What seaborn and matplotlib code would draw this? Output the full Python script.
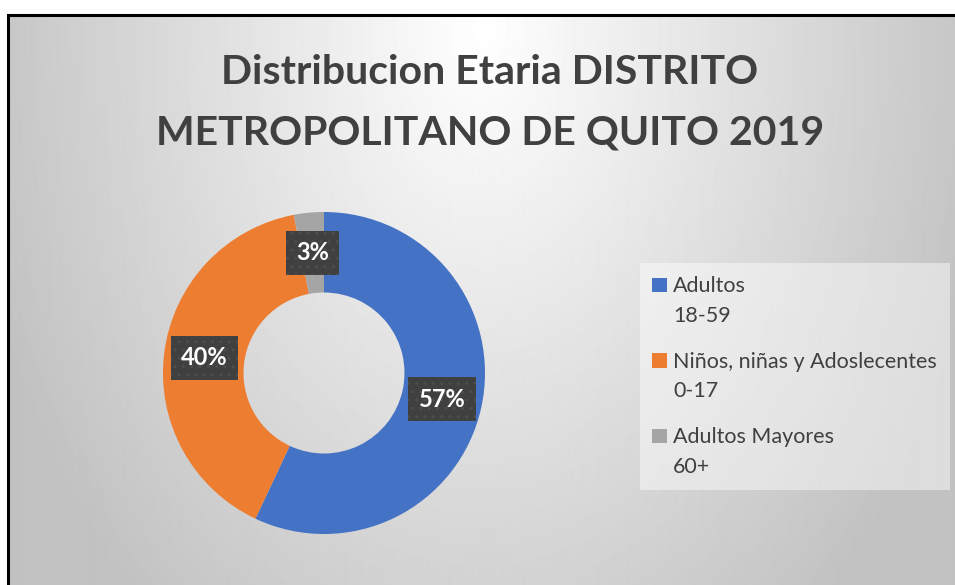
import numpy as np
import matplotlib
matplotlib.use("Agg")
import matplotlib.pyplot as plt
import seaborn as sns
from matplotlib.patches import Rectangle
from matplotlib.patches import Wedge
from matplotlib.legend_handler import HandlerPatch

# datos
categorias = ['Adultos\n18-59', 'Niños, niñas y Adoslecentes\n0-17', 'Adultos Mayores\n60+']
porcentajes = [57, 40, 3]
colores = ['#4472C4', '#ED7D31', '#A5A5A5']
titulo = 'Distribucion Etaria DISTRITO\nMETROPOLITANO DE QUITO 2019'

sns.set_theme(style='white')
plt.rcParams['font.family'] = ['Lato', 'DejaVu Sans']
plt.rcParams['hatch.linewidth'] = 1.0

W, H = 955, 585
fig = plt.figure(figsize=(W / 100, H / 100), dpi=100)
fig.patch.set_facecolor('white')

# fondo degradado (gris en los bordes, blanco arriba al centro)
bg = fig.add_axes([8 / W, 0, 1 - 8 / W, 1 - 15 / H])
yy, xx = np.mgrid[15:H, 8:W]
d = np.sqrt(((xx - 480) / 475.0) ** 2 + ((yy - 30) / 700.0) ** 2)
g = 1 - 0.22 * np.clip(d, 0, 1.1)
bg.imshow(g, cmap='gray', vmin=0, vmax=1, aspect='auto', extent=[0, 1, 0, 1],
          interpolation='bilinear')
bg.axis('off')
fig.patches.append(Rectangle((8 / W, -0.1), 1.2, 1 - 15 / H + 0.1, transform=fig.transFigure,
                             fill=False, edgecolor='black', lw=2.2, zorder=10))

# dona
R = 161
cx, cy = 324, 373
ax = fig.add_axes([(cx - R) / W, (H - cy - R) / H, 2 * R / W, 2 * R / H])
wedges, _, autotexts = ax.pie(porcentajes, colors=colores, startangle=90, counterclock=False,
                              radius=1, autopct='%1.0f%%', pctdistance=0.75,
                              wedgeprops=dict(width=0.5, edgecolor='none'),
                              textprops=dict(color='white', fontsize=17, fontweight='bold'))
ax.set_xlim(-1, 1)
ax.set_ylim(-1, 1)
ax.axis('off')
for t in autotexts:
    t.set_bbox(dict(boxstyle='square,pad=0.44', facecolor='#404040', edgecolor='#4d4d4d',
                    hatch='..', linewidth=0))

# leyenda
LS = 1.61


def cuadro(legend, orig_handle, xdescent, ydescent, width, height, fontsize):
    s = 0.68 * fontsize
    base = 0.5 * (LS * 0.83 * fontsize + 0.2 * fontsize)
    return Rectangle((width - s - xdescent, base), s, s)


leg = ax.legend(wedges, categorias, loc='upper left', bbox_to_anchor=(640 / W, 1 - 263 / H),
                bbox_transform=fig.transFigure, borderaxespad=0, fontsize=15.5,
                labelspacing=1.2, handlelength=0.65, handletextpad=0.3, borderpad=0.6,
                frameon=True, fancybox=False, facecolor='white', framealpha=0.45,
                edgecolor='none', labelcolor='#404040',
                handler_map={Wedge: HandlerPatch(patch_func=cuadro)})
for t in leg.get_texts():
    t.set_linespacing(LS)

fig.text(490 / W, 1 - 145 / H, titulo, ha='center', va='baseline', fontsize=29.5,
         fontweight='bold', color='#404040', linespacing=1.81)

fig.savefig('out.png', dpi=100)
